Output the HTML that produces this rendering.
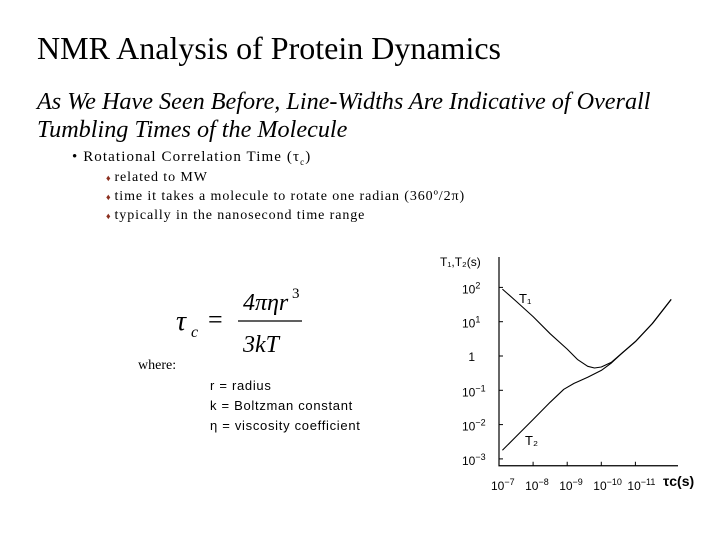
<!DOCTYPE html>
<html><head><meta charset="utf-8"><style>
body{margin:0;width:720px;height:540px;background:#fff;position:relative;overflow:hidden;font-family:"Liberation Serif",serif;color:#000}
.a{position:absolute;white-space:nowrap}
.d{color:#8b2f1f;font-size:9px;margin-right:3px}
</style></head><body>
<div class="a" style="left:37px;top:30px;font-size:32px">NMR Analysis of Protein Dynamics</div>
<div class="a" style="left:37px;top:88px;font-size:24.2px;font-style:italic;line-height:28px">As We Have Seen Before, Line-Widths Are Indicative of Overall<br>Tumbling Times of the Molecule</div>
<div class="a" style="left:72px;top:149px;font-size:15px;letter-spacing:1.1px">• Rotational Correlation Time (τ<sub style="font-size:9px">c</sub>)</div>
<div class="a" style="left:106px;top:170px;font-size:14px;letter-spacing:0.9px"><span class="d">♦</span>related to MW</div>
<div class="a" style="left:106px;top:189px;font-size:14px;letter-spacing:0.9px"><span class="d">♦</span>time it takes a molecule to rotate one radian (360º/2π)</div>
<div class="a" style="left:106px;top:208px;font-size:14px;letter-spacing:0.9px"><span class="d">♦</span>typically in the nanosecond time range</div>
<svg class="a" style="left:170px;top:280px" width="150" height="80">
<text x="6" y="50" font-family="Liberation Serif" font-style="italic" font-size="28">τ</text>
<text x="21" y="57" font-family="Liberation Serif" font-style="italic" font-size="16">c</text>
<text x="38" y="48" font-family="Liberation Serif" font-size="26">=</text>
<text x="73" y="30" font-family="Liberation Serif" font-style="italic" font-size="24">4πηr</text>
<text x="122" y="18" font-family="Liberation Serif" font-size="15">3</text>
<line x1="68" y1="41" x2="132" y2="41" stroke="#000" stroke-width="1.3"/>
<text x="73" y="72" font-family="Liberation Serif" font-style="italic" font-size="24">3kT</text>
</svg>
<div class="a" style="left:138px;top:358px;font-size:14px">where:</div>
<div class="a" style="left:210px;top:376px;font-size:13px;letter-spacing:0.7px;line-height:20px;font-family:'Liberation Sans',sans-serif">r = radius<br>k = Boltzman constant<br>η = viscosity coefficient</div>
<svg class="a" id="chart" style="left:0;top:0" width="720" height="540"></svg>
<script>
const xTicksExp=[-7,-8,-9,-10,-11];
const yTicksExp=[2,1,0,-1,-2,-3];
const t1Tau=[7.1,7.5,8,8.5,9,9.3,9.6,9.8,10.0,10.3,10.6,11,11.5,12.05];
const t1Log=[1.95,1.6,1.15,0.65,0.2,-0.1,-0.3,-0.35,-0.32,-0.18,0.08,0.42,0.95,1.65];
const t2Tau=[7.1,7.5,8,8.5,8.9,9.2,9.6,10.0,10.3,10.6,11,11.5,12.05];
const t2Log=[-2.75,-2.35,-1.85,-1.35,-0.97,-0.8,-0.62,-0.42,-0.2,0.08,0.42,0.95,1.65];
const NS='http://www.w3.org/2000/svg';
const svg=document.getElementById('chart');
const X=e=>499+(e-7)*34.1;
const Y=l=>356-l*34.3;
function mk(t,a,p){const el=document.createElementNS(NS,t);for(const k in a)el.setAttribute(k,a[k]);(p||svg).appendChild(el);return el;}
const ax=mk('path',{d:`M${X(7)},257 V${Y(-3.2)} H678`,fill:'none',stroke:'#000','stroke-width':1.2});


function lbl(x,y,base,exp,name,anchor){const t=mk('text',{x:x,y:y,'font-family':'Liberation Sans','font-size':12,'text-anchor':anchor});t.textContent=base;if(exp!==null){const s=mk('tspan',{dy:-5,'font-size':9},t);s.textContent=exp;}return t;}
yTicksExp.forEach(e=>{const y=Y(e);
const tk=mk('line',{x1:X(7),x2:X(7)+4,y1:y,y2:y,stroke:'#000'});


if(e===0)lbl(475,y+5,'1',null,'y-tick-label','end');else lbl(462,y+6,'10',e<0?'−'+Math.abs(e):String(e),'y-tick-label','start');});
xTicksExp.forEach(e=>{const x=X(-e);
const tk=mk('line',{x1:x,x2:x,y1:Y(-3.2),y2:Y(-3.2)-4,stroke:'#000'});


lbl(x-8,Y(-3.2)+24,'10','−'+Math.abs(e),'x-tick-label','start');});
const yt=mk('text',{x:440,y:266,'font-family':'Liberation Sans','font-size':12});yt.textContent='T₁,T₂(s)';


const xt=mk('text',{x:663,y:486,'font-family':'Liberation Sans','font-size':14,'font-weight':'bold'});xt.textContent='τc(s)';


function line(xs,ys,name){let d='';xs.forEach((v,i)=>{d+=(i?'L':'M')+X(v).toFixed(1)+','+Y(ys[i]).toFixed(1)});const p=mk('path',{d:d,fill:'none',stroke:'#000','stroke-width':1.1,'stroke-linejoin':'round'});}
line(t1Tau,t1Log,'t1-curve');
line(t2Tau,t2Log,'t2-curve');
const l1=mk('text',{x:519,y:303,'font-family':'Liberation Sans','font-size':13});l1.textContent='T₁';


const l2=mk('text',{x:525,y:445,'font-family':'Liberation Sans','font-size':13});l2.textContent='T₂';


</script>
</body></html>
